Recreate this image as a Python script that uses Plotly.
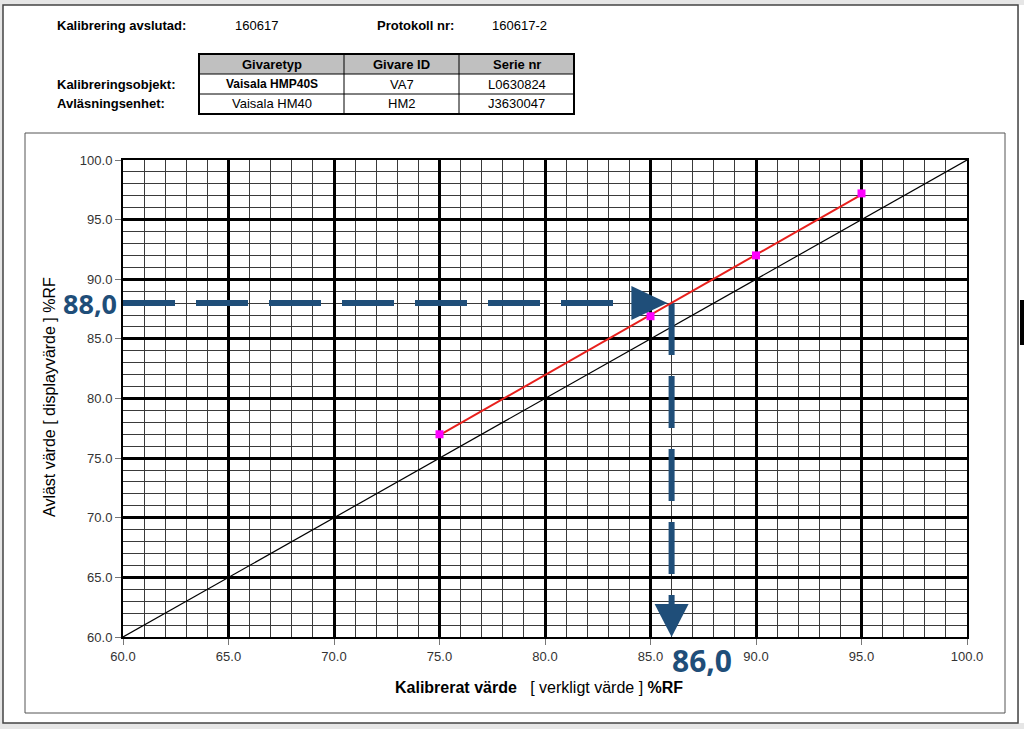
import numpy as np
import plotly.graph_objects as go

# kalibreringsdata (%RF)
kalibrerat = [75.0, 85.0, 90.0, 95.0]      # verkligt värde
avlast = [77.0, 86.9, 92.0, 97.2]          # displayvärde
axel_ticks = [60, 65, 70, 75, 80, 85, 90, 95, 100]

# exempel: avläst 88,0 -> verkligt 86,0
avlast_exempel = 88.0
verkligt_exempel = 86.0

# huvud / tabell
tabell_kolumner = ["Givaretyp", "Givare ID", "Serie nr"]
tabell_rad1 = ["Vaisala HMP40S", "VA7", "L0630824"]
tabell_rad2 = ["Vaisala HM40", "HM2", "J3630047"]

W, H = 1024, 729
L, R, T, B = 123, 967, 160, 637   # plottyta i pixlar
BLA = "#1f4e79"
FONT = "Liberation Sans, Arial, sans-serif"


def px(x):
    return (x - L) / (R - L)


def py(y):
    return (B - y) / (B - T)


# linjär anpassning (röd linje)
k, m = np.polyfit(kalibrerat, avlast, 1)
fx = [min(kalibrerat), max(kalibrerat)]
fy = [k * v + m for v in fx]

fig = go.Figure()

# 1:1 linje
fig.add_trace(go.Scatter(x=[60, 100], y=[60, 100], mode="lines",
                         line=dict(color="black", width=1.2), hoverinfo="skip"))

# streckade pilar
fig.add_trace(go.Scatter(x=[60, verkligt_exempel - 1.8], y=[avlast_exempel, avlast_exempel],
                         mode="lines", line=dict(color=BLA, width=6, dash="52px,21px")))
fig.add_trace(go.Scatter(x=[verkligt_exempel, verkligt_exempel], y=[avlast_exempel, 62.6],
                         mode="lines", line=dict(color=BLA, width=6, dash="52px,21px")))

# anpassad linje + mätpunkter
fig.add_trace(go.Scatter(x=fx, y=fy, mode="lines", line=dict(color="#e8201c", width=2)))
fig.add_trace(go.Scatter(x=kalibrerat, y=avlast, mode="markers",
                         marker=dict(symbol="square", size=8, color="#ff00ff")))

shapes = []
# sida
shapes.append(dict(type="rect", xref="paper", yref="paper", layer="below",
                   x0=px(3), x1=px(1018), y0=py(723), y1=py(5),
                   fillcolor="white", line=dict(color="#444", width=1.5)))
shapes.append(dict(type="rect", xref="paper", yref="paper", layer="below",
                   x0=px(1019), x1=px(1024), y0=py(723), y1=py(5),
                   fillcolor="white", line=dict(width=0)))
shapes.append(dict(type="rect", xref="paper", yref="paper", layer="below",
                   x0=px(25), x1=px(1005), y0=py(713), y1=py(133),
                   fillcolor="white", line=dict(color="#555", width=1)))
shapes.append(dict(type="rect", xref="paper", yref="paper", layer="below",
                   x0=px(1020), x1=px(1024), y0=py(345), y1=py(300),
                   fillcolor="black", line=dict(width=0)))

# pilspetsar
shapes.append(dict(type="path", xref="x", yref="y", xsizemode="pixel", ysizemode="pixel",
                   xanchor=verkligt_exempel - 0.2, yanchor=avlast_exempel,
                   path="M -36,17 L 0,0 L -36,-17 Z", fillcolor=BLA, line=dict(width=0)))
shapes.append(dict(type="path", xref="x", yref="y", xsizemode="pixel", ysizemode="pixel",
                   xanchor=verkligt_exempel, yanchor=60,
                   path="M -17,33 L 0,0 L 17,33 Z", fillcolor=BLA, line=dict(width=0)))

# tabell
cx = [199, 344, 459, 574]
ry = [54, 74, 94, 114]
shapes.append(dict(type="rect", xref="paper", yref="paper", x0=px(cx[0]), x1=px(cx[3]),
                   y0=py(ry[1]), y1=py(ry[0]), fillcolor="#c0c0c0", line=dict(width=0)))
for c in cx[1:3]:
    shapes.append(dict(type="line", xref="paper", yref="paper", x0=px(c), x1=px(c),
                       y0=py(ry[3]), y1=py(ry[0]), line=dict(color="black", width=1)))
for r in ry[1:3]:
    shapes.append(dict(type="line", xref="paper", yref="paper", x0=px(cx[0]), x1=px(cx[3]),
                       y0=py(r), y1=py(r), line=dict(color="black", width=1)))
shapes.append(dict(type="rect", xref="paper", yref="paper", x0=px(cx[0]), x1=px(cx[3]),
                   y0=py(ry[3]), y1=py(ry[0]), line=dict(color="black", width=2)))

ann = []


def text(x, y, s, size=13, bold=False, xanchor="left", color="black", family=FONT, ref="paper"):
    ann.append(dict(x=px(x) if ref == "paper" else x, y=py(y), xref=ref, yref="paper",
                    text="<b>%s</b>" % s if bold else s, showarrow=False,
                    xanchor=xanchor, yanchor="middle",
                    font=dict(size=size, color=color, family=family)))


text(55, 25, "Kalibrering avslutad:", bold=True)
text(233, 25, "160617")
text(375, 25, "Protokoll nr:", bold=True)
text(490, 25, "160617-2")
text(55, 84, "Kalibreringsobjekt:", bold=True)
text(55, 104, "Avläsningsenhet:", bold=True)
for i in range(3):
    mid = (cx[i] + cx[i + 1]) / 2
    text(mid, 64, tabell_kolumner[i], bold=True, xanchor="center")
    text(mid, 84, tabell_rad1[i], size=12 if i == 0 else 13, bold=(i == 0), xanchor="center")
    text(mid, 104, tabell_rad2[i], xanchor="center")

# axeltitlar
text(393, 687, "<b>Kalibrerat värde</b>   [ verkligt värde ] <b>%RF</b>", size=16)
ann.append(dict(x=px(49), y=py(397), xref="paper", yref="paper", showarrow=False,
                xanchor="center", yanchor="middle",
                text="Avläst värde [ displayvärde ] %RF", textangle=-90,
                font=dict(size=16, color="black", family=FONT)))

# exempeltal
text(119, 303, "88,0", size=27, bold=True, xanchor="right", color=BLA, family="Open Sans")
ann.append(dict(x=verkligt_exempel, y=py(660), xref="x", yref="paper", showarrow=False,
                text="<b>86,0</b>", xanchor="left", xshift=-2, yanchor="middle",
                font=dict(size=30, color=BLA, family="Open Sans")))

axis = dict(range=[60, 100], tickvals=axel_ticks, tickformat=".1f",
            showgrid=True, gridcolor="black", gridwidth=3,
            minor=dict(dtick=1, showgrid=True, gridcolor="#3a3a3a", gridwidth=1),
            showline=True, linecolor="black", linewidth=2, mirror=True,
            ticks="outside", ticklen=6, tickcolor="#777",
            tickfont=dict(size=13, color="#333", family=FONT), zeroline=False)

fig.update_layout(
    width=W, height=H,
    margin=dict(l=L, r=W - R, t=T, b=H - B),
    paper_bgcolor="#e6e6e6", plot_bgcolor="white",
    showlegend=False,
    xaxis=axis, yaxis=axis,
    shapes=shapes, annotations=ann,
)

# sidans standardmarginal bort så att figuren ligger i fönstrets hörn
fig.write_html("out.html", config={"displayModeBar": False},
               post_script="document.body.style.margin='0';")
